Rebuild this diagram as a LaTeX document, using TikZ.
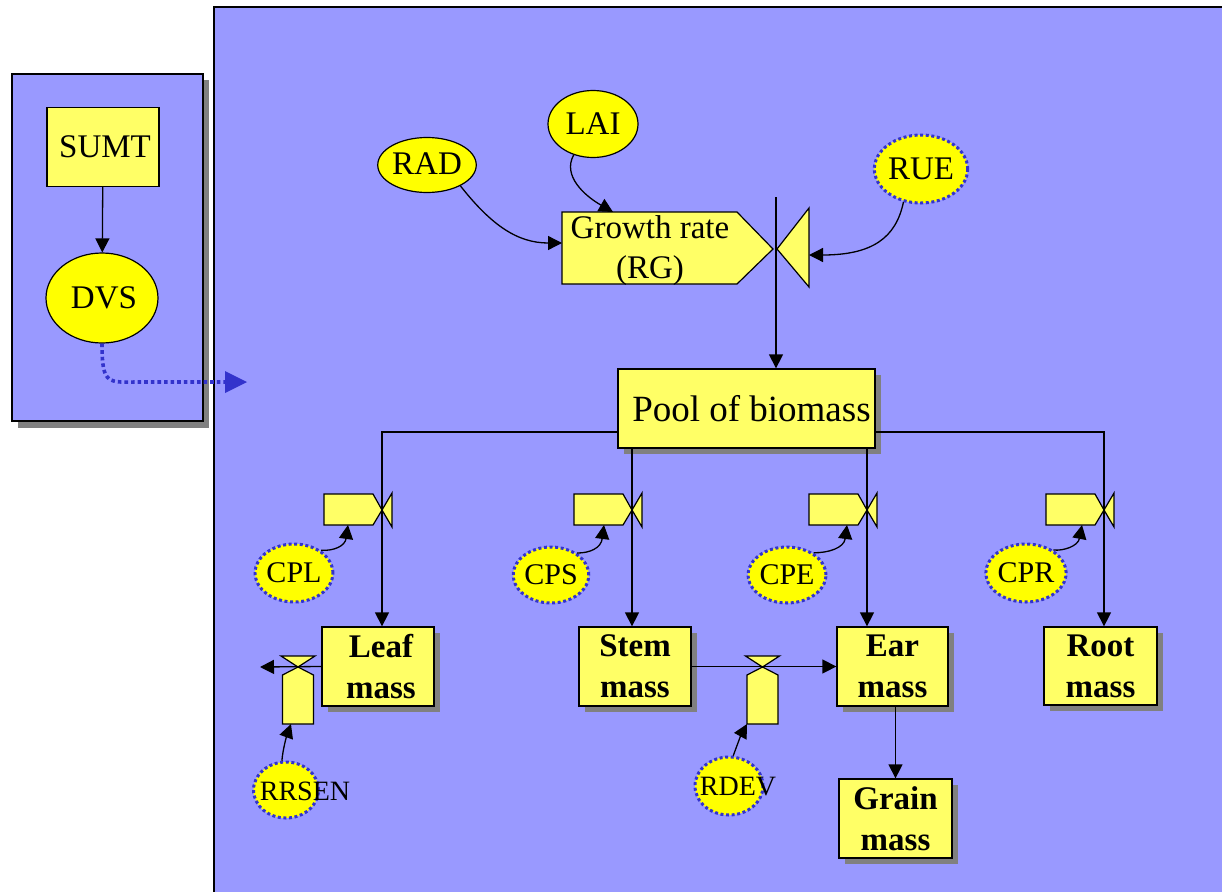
\documentclass[tikz,border=0pt]{standalone}
\usepackage{fontspec}
\setmainfont{Liberation Serif}
\usetikzlibrary{arrows.meta,shapes.geometric,shadows}
\definecolor{panelblue}{HTML}{9999FF}
\definecolor{boxyellow}{HTML}{FFFF66}
\definecolor{varyellow}{HTML}{FFFF00}
\definecolor{dotblue}{HTML}{3333CC}
\definecolor{shadowgray}{HTML}{808080}
\begin{document}
\begin{tikzpicture}[x=1pt,y=-1pt,
  panelline/.style={draw=black,line width=1.4pt},
  shadowed/.style={general shadow={fill=shadowgray,shadow xshift=6pt,shadow yshift=-6pt}},
  box/.style={draw=black,line width=1.3pt,fill=boxyellow,inner sep=0pt,
    minimum width=112pt,minimum height=79pt,align=center},
  txt/.style={font=\fontsize{33}{40}\selectfont},
  masstxt/.style={font=\fontsize{33}{41}\selectfont\bfseries},
  var/.style={ellipse,draw=black,line width=1.2pt,fill=varyellow,inner sep=0pt},
  param/.style={ellipse,draw=dotblue,line width=3pt,dash pattern=on 3pt off 2.6pt,
    fill=varyellow,inner sep=0pt},
  partxt/.style={font=\fontsize{30}{34}\selectfont},
  smalltxt/.style={font=\fontsize{28}{32}\selectfont},
  valveshape/.style={draw=black,line width=1.2pt,fill=boxyellow,line join=miter},
  arr/.style={line width=1.3pt,-{Triangle[length=14pt,width=14pt]}},
  dotarr/.style={draw=dotblue,line width=3.6pt,dash pattern=on 3.6pt off 3pt,
    -{Triangle[length=22pt,width=22pt,fill=dotblue,line width=0pt]}},
  hvalve/.pic={
    \draw[valveshape] (-58,-16) -- (-9,-16) -- (0,0) -- (-9,15) -- (-58,15) -- cycle;
    \draw[valveshape] (0,0) -- (10,-17) -- (10,17) -- cycle;
  },
  vvalve/.pic={
    \draw[valveshape] (-17,-11) -- (17,-11) -- (0,0) -- cycle;
    \draw[valveshape] (0,0) -- (15.5,8) -- (15.5,57) -- (-15.5,57) -- (-15.5,8) -- cycle;
  }
]
\useasboundingbox (0,0) rectangle (1222,891);
\fill[white] (0,0) rectangle (1222,891);

% development panel with its drop shadow
\fill[shadowgray] (18,80) rectangle (209,428);
\fill[panelblue] (12,74) rectangle (203,421);
\draw[panelline] (12,74) rectangle (203,421);

% growth panel, running off the right and bottom edges
\fill[panelblue] (214,7) rectangle (1240,910);
\draw[panelline] (1240,7) -- (214,7) -- (214,910);

% growth-rate flow valve
\draw[valveshape] (562,212) -- (737,212) -- (773,249) -- (737,284) -- (562,284) -- cycle;
\draw[valveshape] (777,249) -- (809,208) -- (809,287) -- cycle;

% partitioning valves on the four branches
\pic at (382,510) {hvalve};
\pic at (632,510) {hvalve};
\pic at (867,510) {hvalve};
\pic at (1104,510) {hvalve};

% senescence and development valves
\pic at (298,667) {vvalve};
\pic at (762.5,667) {vvalve};

% state and driving variables
\node[box,txt,minimum height=79pt] (sumt) at (103,147) {\hspace*{4pt}SUMT};
\node[var,txt,minimum width=112pt,minimum height=90pt] (dvs) at (102,298) {\hspace*{4pt}DVS};
\node[var,txt,minimum width=90pt,minimum height=55pt] (rad) at (427,165) {\raisebox{3pt}{RAD}};
\node[var,txt,minimum width=90pt,minimum height=67pt] (lai) at (593,124) {LAI};
\node[param,txt,minimum width=92pt,minimum height=68pt] (rue) at (921,169) {RUE};
\node[txt,align=center,inner sep=0pt] (rg) at (650,251) {Growth rate\\(RG)};

\node[box,shadowed,minimum width=257pt,font=\fontsize{37}{42}\selectfont] (pool) at (746.5,408.5) {\hspace*{10pt}Pool of biomass};

\node[box,shadowed,masstxt] (leaf) at (378,666.5) {\hspace*{6pt}Leaf\\\hspace*{6pt}mass};
\node[box,shadowed,masstxt] (stem) at (635,666.5) {Stem\\mass};
\node[box,shadowed,masstxt,minimum width=111pt] (ear) at (892.5,666.5) {Ear\\mass};
\node[box,shadowed,masstxt,minimum width=113pt,minimum height=78pt] (root) at (1100.5,666) {Root\\mass};
\node[box,shadowed,masstxt,minimum width=113pt] (grain) at (895.5,818.5) {Grain\\mass};

\node[param,partxt,minimum width=66pt,minimum height=58pt] (cpl) at (294,573) {CPL};
\node[param,partxt,minimum width=66pt,minimum height=56pt] (cps) at (551,575) {CPS};
\node[param,partxt,minimum width=66pt,minimum height=56pt] (cpe) at (787,575) {CPE};
\node[param,partxt,minimum width=68pt,minimum height=58pt] (cpr) at (1026,573) {CPR};

\node[param,minimum width=65pt,minimum height=56pt] (rrsen) at (286,790) {};
\node[smalltxt,inner sep=0pt] (rrsenlbl) at (305,791) {RRSEN};
\node[param,minimum width=68pt,minimum height=58pt] (rdev) at (729,786) {};
\node[smalltxt,inner sep=0pt] (rdevlbl) at (738,787) {RDEV};

% free ends of the connectors
\coordinate (dvsend) at (247,382);
\coordinate (rgin) at (562,243);
\coordinate (rgtop) at (613,212);
\coordinate (rgside) at (809,255);
\coordinate (gtop) at (776,197);
\coordinate (bl) at (382,432);
\coordinate (bs) at (632,432);
\coordinate (be) at (867,432);
\coordinate (br) at (1104,432);
\coordinate (cplt) at (348,525);
\coordinate (cpst) at (604,525);
\coordinate (cpet) at (847,525);
\coordinate (cprt) at (1082,525);
\coordinate (leafout) at (260,667);
\coordinate (rrsent) at (291,724);
\coordinate (rdevt) at (747,724);

% development
\draw[arr] (sumt) -- (dvs);
\draw[dotarr] (dvs.south) .. controls (102,386) and (108,382) .. (140,382) -- (dvsend);

% growth-rate inputs
\draw[arr] (rad.-32) .. controls (492,226) and (518,243) .. (rgin);
\draw[arr] (lai.-122) .. controls (562,176) and (585,196) .. (rgtop);
\draw[arr] (rue.-118) .. controls (896,238) and (872,255) .. (rgside);
\draw[arr] (gtop) -- (gtop |- pool.north);

% partitioning of the pool
\draw[arr] (pool.west |- bl) -- (bl) -- (bl |- leaf.north);
\draw[arr] (pool.south -| bs) -- (bs |- stem.north);
\draw[arr] (pool.south -| be) -- (be |- ear.north);
\draw[arr] (pool.east |- br) -- (br) -- (br |- root.north);

\draw[arr] (cpl.40) .. controls (334,551) and (345,546) .. (cplt);
\draw[arr] (cps.40) .. controls (590,553) and (601,548) .. (cpst);
\draw[arr] (cpe.40) .. controls (828,553) and (844,548) .. (cpet);
\draw[arr] (cpr.40) .. controls (1064,551) and (1078,546) .. (cprt);

% losses and transfers between organs
\draw[arr] (leaf.west) -- (leafout);
\draw[arr] (stem.east) -- (ear.west);
\draw[arr] (ear.south -| grain.north) -- (grain.north);
\draw[arr] (rrsen.98) .. controls (283,748) and (287,735) .. (rrsent);
\draw[arr] (rdev.82) .. controls (736,748) and (741,735) .. (rdevt);
\end{tikzpicture}
\end{document}
